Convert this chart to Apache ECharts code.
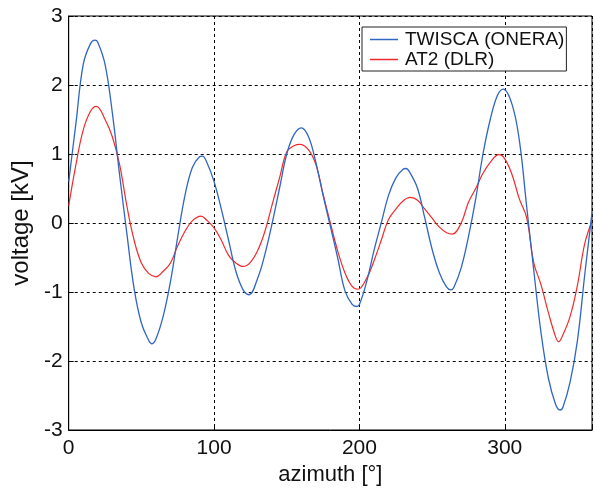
<!DOCTYPE html>
<html>
<head>
<meta charset="utf-8">
<style>
  html, body { margin: 0; padding: 0; background: #fff; }
  #chart { width: 595px; height: 491px; }
</style>
<script src="https://cdn.jsdelivr.net/npm/echarts@6/dist/echarts.min.js"></script>
</head>
<body>
<div id="chart"></div>
<script>
// Induced voltage versus azimuth for two rotor codes
const twiscaAzimuth = [0,5,10,15,18,20,25,30,35,40,45,50,55,57,60,65,70,75,80,85,90,92,95,100,105,110,115,120,124,130,135,140,145,150,155,160,165,170,175,180,185,190,195,198,200,205,210,215,220,225,230,232,235,240,245,250,255,260,263,265,270,275,280,285,290,295,299,305,310,315,320,325,330,335,338,340,345,350,355,360];
const twiscaVoltage = [0.6,1.45,2.3,2.6,2.65,2.62,2.3,1.6,0.7,-0.15,-0.95,-1.45,-1.7,-1.75,-1.68,-1.35,-0.85,-0.2,0.4,0.8,0.96,0.97,0.88,0.6,0.2,-0.25,-0.7,-0.97,-1.04,-0.8,-0.45,0,0.5,1.0,1.28,1.38,1.25,0.88,0.4,-0.05,-0.5,-0.98,-1.18,-1.21,-1.18,-0.85,-0.4,0,0.4,0.65,0.78,0.79,0.72,0.5,0.07,-0.38,-0.72,-0.93,-0.97,-0.93,-0.65,-0.2,0.35,1.0,1.5,1.85,1.94,1.72,1.2,0.25,-0.7,-1.6,-2.25,-2.63,-2.71,-2.67,-2.3,-1.7,-0.75,0.15];

const at2Azimuth = [0,5,10,15,19,25,30,35,40,45,50,55,60,65,70,75,80,85,91,95,100,105,110,115,120,125,130,135,140,145,150,155,159,165,170,175,180,185,190,195,199,205,210,215,220,225,230,235,240,245,250,255,260,264,270,275,280,285,290,296,300,305,310,315,320,325,330,335,337,340,345,350,355,360];
const at2Voltage = [0.25,0.85,1.35,1.62,1.69,1.5,1.25,0.85,0.25,-0.25,-0.58,-0.73,-0.78,-0.7,-0.58,-0.33,-0.12,0.03,0.1,0.04,-0.07,-0.25,-0.47,-0.58,-0.63,-0.57,-0.4,-0.12,0.27,0.65,1.03,1.12,1.14,1.06,0.85,0.42,0.0,-0.4,-0.72,-0.92,-0.96,-0.8,-0.55,-0.25,0.05,0.2,0.32,0.37,0.33,0.2,0.07,-0.06,-0.14,-0.16,0.0,0.3,0.5,0.72,0.88,0.99,0.93,0.7,0.35,0.08,-0.58,-0.9,-1.3,-1.65,-1.72,-1.62,-1.35,-0.9,-0.3,0.03];

const xTicks = [0, 100, 200, 300];
const yTicks = [-3, -2, -1, 0, 1, 2, 3];

const seriesNames = ['TWISCA (ONERA)', 'AT2 (DLR)'];
const FONT = "'Liberation Sans', Arial, sans-serif";

function pairs(xs, ys) { return xs.map((x, i) => [x, ys[i]]); }

const chart = echarts.init(document.getElementById('chart'), null, { renderer: 'canvas' });

const dashed = { show: true, lineStyle: { color: '#000', type: [3, 3], width: 1 } };

chart.setOption({
  backgroundColor: '#fff',
  animation: false,
  grid: {
    left: 68.7, top: 16, width: 527.5, height: 416.7,
    show: true, borderColor: '#000', borderWidth: 1, backgroundColor: 'transparent'
  },
  legend: {
    orient: 'vertical',
    left: 362, top: 27,
    data: seriesNames,
    icon: 'rect',
    itemWidth: 28, itemHeight: 1.5, itemGap: 1,
    padding: [3, 2, 2, 8],
    backgroundColor: '#fff',
    borderColor: '#222', borderWidth: 1, borderRadius: 0,
    textStyle: { fontFamily: FONT, fontSize: 19, color: '#111', lineHeight: 19, padding: [0, 0, 0, 2] }
  },
  xAxis: {
    type: 'value', min: 0, max: 360, interval: 100,
    name: 'azimuth [°]', nameLocation: 'middle', nameGap: 34,
    nameTextStyle: { fontFamily: FONT, fontSize: 22, color: '#111' },
    axisLine: { show: true, onZero: false, lineStyle: { color: '#000', width: 1 } },
    axisTick: { show: true, inside: true, length: 5, lineStyle: { color: '#000' } },
    axisLabel: {
      fontFamily: FONT, fontSize: 21, color: '#111', margin: 8,
      formatter: v => (xTicks.indexOf(v) >= 0 ? String(v) : '')
    },
    splitLine: dashed
  },
  yAxis: {
    type: 'value', min: -3, max: 3, interval: 1,
    name: 'voltage [kV]', nameLocation: 'middle', nameGap: 34, nameRotate: 90,
    nameTextStyle: { fontFamily: FONT, fontSize: 24, color: '#111' },
    axisLine: { show: true, onZero: false, lineStyle: { color: '#000', width: 1 } },
    axisTick: { show: true, inside: true, length: 5, lineStyle: { color: '#000' } },
    axisLabel: {
      fontFamily: FONT, fontSize: 21, color: '#111', margin: 6,
      formatter: v => (yTicks.indexOf(v) >= 0 ? String(v) : '')
    },
    splitLine: dashed
  },
  series: [
    {
      name: seriesNames[0], type: 'line', data: pairs(twiscaAzimuth, twiscaVoltage),
      showSymbol: false, symbol: 'none', smooth: 0.4,
      lineStyle: { color: '#2f66c4', width: 1.3 }, itemStyle: { color: '#2f66c4' }, z: 3
    },
    {
      name: seriesNames[1], type: 'line', data: pairs(at2Azimuth, at2Voltage),
      showSymbol: false, symbol: 'none', smooth: 0.4,
      lineStyle: { color: '#f22a2a', width: 1.2 }, itemStyle: { color: '#f22a2a' }, z: 2
    }
  ]
});
</script>
</body>
</html>
